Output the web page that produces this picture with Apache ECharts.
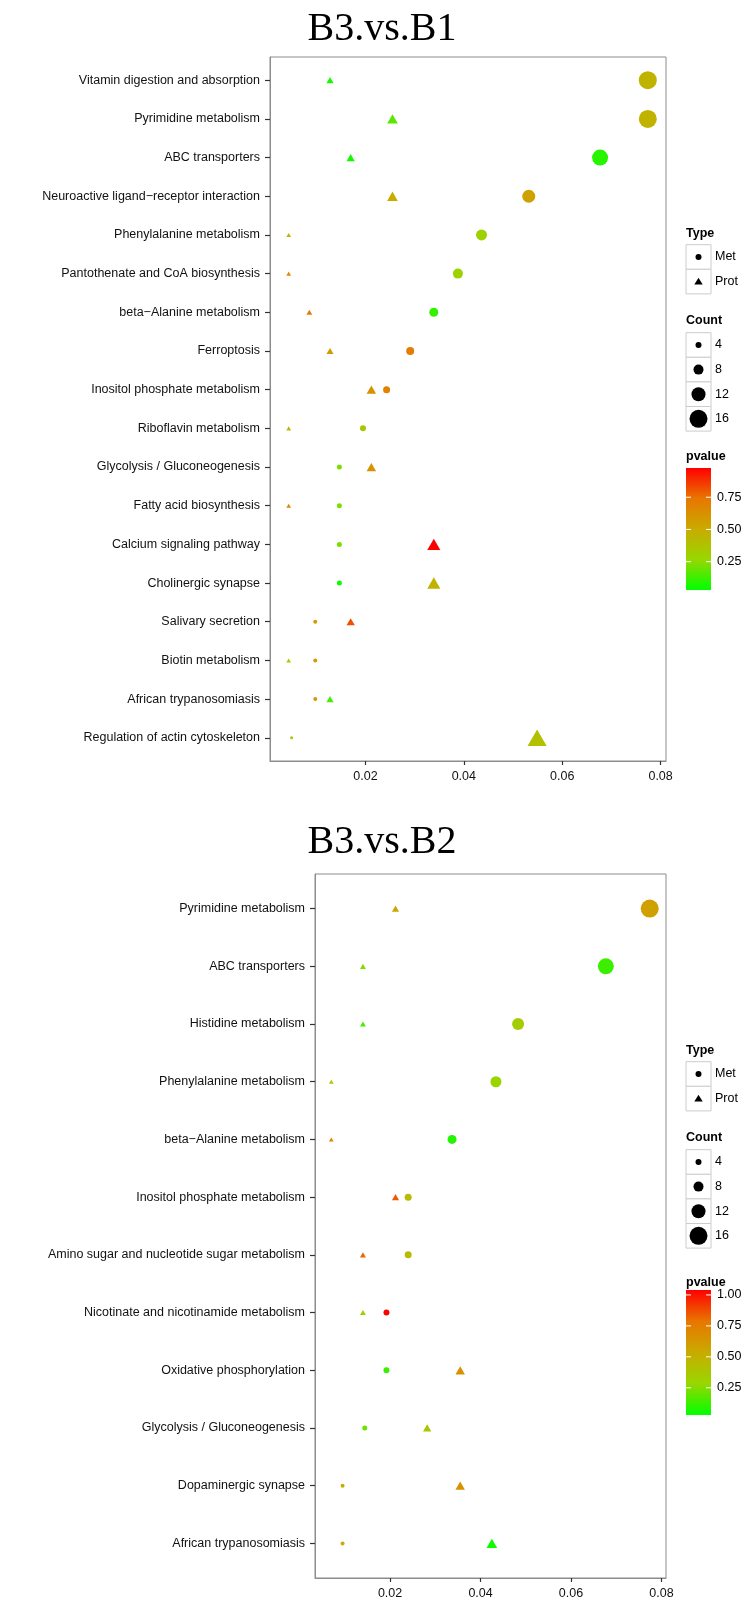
<!DOCTYPE html>
<html>
<head>
<meta charset="utf-8">
<script src="https://cdn.jsdelivr.net/npm/echarts@6/dist/echarts.min.js"></script>
<style>
  html, body { margin: 0; padding: 0; background: #fff; }
  #chart { width: 746px; height: 1600px; }
</style>
</head>
<body>
<div id="chart"></div>
<script>
// panel 1: B3.vs.B1
const pathways1 = [
  'Vitamin digestion and absorption', 'Pyrimidine metabolism', 'ABC transporters',
  'Neuroactive ligand\u2212receptor interaction', 'Phenylalanine metabolism',
  'Pantothenate and CoA biosynthesis', 'beta\u2212Alanine metabolism', 'Ferroptosis',
  'Inositol phosphate metabolism', 'Riboflavin metabolism', 'Glycolysis / Gluconeogenesis',
  'Fatty acid biosynthesis', 'Calcium signaling pathway', 'Cholinergic synapse',
  'Salivary secretion', 'Biotin metabolism', 'African trypanosomiasis',
  'Regulation of actin cytoskeleton'
]
const metRatio1 = [0.0774, 0.0774, 0.0677, 0.0532, 0.0436, 0.0388, 0.0339, 0.0291, 0.0243, 0.0195, 0.0147, 0.0147, 0.0147, 0.0147, 0.0098, 0.0098, 0.0098, 0.0050]
const metCount1 = [16, 16, 14, 11, 9, 8, 7, 6, 5, 4, 3, 3, 3, 3, 2, 2, 2, 1]
const metP1 = [0.46, 0.46, 0.09, 0.55, 0.30, 0.29, 0.11, 0.71, 0.69, 0.36, 0.22, 0.22, 0.22, 0.05, 0.57, 0.57, 0.57, 0.36]
const protRatio1 = [0.0128, 0.0255, 0.0170, 0.0255, 0.0044, 0.0044, 0.0086, 0.0128, 0.0212, 0.0044, 0.0212, 0.0044, 0.0339, 0.0339, 0.0170, 0.0044, 0.0128, 0.0549]
const protCount1 = [3, 6, 4, 6, 1, 1, 2, 3, 5, 1, 5, 1, 8, 8, 4, 1, 3, 13]
const protP1 = [0.06, 0.17, 0.06, 0.50, 0.46, 0.65, 0.71, 0.57, 0.62, 0.46, 0.62, 0.66, 0.977, 0.46, 0.82, 0.31, 0.14, 0.39]

// panel 2: B3.vs.B2
const pathways2 = [
  'Pyrimidine metabolism', 'ABC transporters', 'Histidine metabolism',
  'Phenylalanine metabolism', 'beta\u2212Alanine metabolism', 'Inositol phosphate metabolism',
  'Amino sugar and nucleotide sugar metabolism', 'Nicotinate and nicotinamide metabolism',
  'Oxidative phosphorylation', 'Glycolysis / Gluconeogenesis', 'Dopaminergic synapse',
  'African trypanosomiasis'
]
const metRatio2 = [0.0774, 0.0677, 0.0483, 0.0434, 0.0337, 0.0240, 0.0240, 0.0192, 0.0192, 0.0144, 0.0095, 0.0095]
const metCount2 = [16, 14, 10, 9, 7, 5, 5, 4, 4, 3, 2, 2]
const metP2 = [0.59, 0.13, 0.34, 0.29, 0.09, 0.44, 0.44, 1.04, 0.13, 0.21, 0.52, 0.52]
const protRatio2 = [0.0212, 0.0140, 0.0140, 0.0070, 0.0070, 0.0212, 0.0140, 0.0140, 0.0355, 0.0282, 0.0355, 0.0425]
const protCount2 = [3, 2, 2, 1, 1, 3, 2, 2, 5, 4, 5, 6]
const protP2 = [0.56, 0.25, 0.15, 0.36, 0.72, 0.85, 0.82, 0.32, 0.66, 0.39, 0.66, 0.05]

const titles = ['B3.vs.B1', 'B3.vs.B2']
const typeNames = ['Met', 'Prot']
const xTicks = [0.02, 0.04, 0.06, 0.08]
const countKeys = [4, 8, 12, 16]
const pTicks1 = [0.25, 0.5, 0.75]
const pTicks2 = [0.25, 0.5, 0.75, 1.0]
const xRange1 = [0.0006, 0.0811]
const xRange2 = [0.0034, 0.0810]
const pRange1 = [0.03, 0.977]
const pRange2 = [0.03, 1.04]

// green -> red, interpolated like ggplot (Lab)
const pColors = ['#00ff00', '#98d700', '#c9ab00', '#e87600', '#ff0000']

const SANS = "'Liberation Sans', Arial, Helvetica, sans-serif"
const SERIF = "'Liberation Serif', 'Times New Roman', serif"

const circleSize = c => c + 2
const triSize = c => { const w = 1.2 * c + 3.5; return [w, w * 0.87] }

function points(ratio, count, p) {
  return ratio.map((x, i) => [x, i, count[i], p[i]])
}

function xAxisOf(gi, range) {
  return {
    gridIndex: gi, type: 'value', min: range[0], max: range[1],
    axisLine: { show: true, onZero: false, lineStyle: { color: '#8c8c8c', width: 1 } },
    axisTick: { show: true, length: 4, customValues: xTicks, lineStyle: { color: '#333', width: 1.2 } },
    axisLabel: { customValues: xTicks, formatter: v => v.toFixed(2), margin: 9, fontSize: 12.5, color: '#111', fontFamily: SANS },
    splitLine: { show: false }
  }
}

function yAxisOf(gi, names) {
  const idx = names.map((_, i) => i)
  return {
    gridIndex: gi, type: 'value', inverse: true, min: -0.6, max: names.length - 0.4,
    axisLine: { show: true, onZero: false, lineStyle: { color: '#8c8c8c', width: 1 } },
    axisTick: { show: true, length: 5, customValues: idx, lineStyle: { color: '#333', width: 1.2 } },
    axisLabel: { customValues: idx, formatter: v => names[Math.round(v)], margin: 10, fontSize: 12.5, color: '#111', fontFamily: SANS },
    splitLine: { show: false }
  }
}

function seriesOf(gi, ratioM, countM, pM, ratioP, countP, pP) {
  return [
    {
      name: 'Met', type: 'scatter', xAxisIndex: gi, yAxisIndex: gi, symbol: 'circle',
      symbolSize: v => circleSize(v[2]), data: points(ratioM, countM, pM),
      itemStyle: { opacity: 1 }, silent: true
    },
    {
      name: 'Prot', type: 'scatter', xAxisIndex: gi, yAxisIndex: gi, symbol: 'triangle',
      symbolSize: v => triSize(v[2]), data: points(ratioP, countP, pP),
      itemStyle: { opacity: 1 }, silent: true
    }
  ]
}

// ggplot-style legend column: Type, Count, pvalue colourbar
function legendOf(y0, pTitleY, barTop, barLen, pTicks, pRange) {
  const x0 = 686, kw = 25, kh = 24.6
  const els = []
  const txt = (x, y, s, bold) => ({
    type: 'text', x, y,
    style: { text: s, fontSize: 12.5, fontWeight: bold ? 'bold' : 'normal', fill: '#000', fontFamily: SANS, verticalAlign: 'middle' }
  })
  const key = (cy) => ({ type: 'rect', shape: { x: x0, y: cy - kh / 2, width: kw, height: kh }, style: { fill: '#fff', stroke: '#cccccc', lineWidth: 1 } })

  els.push(txt(x0, y0, 'Type', true))
  typeNames.forEach((name, i) => {
    const cy = y0 + 23 + i * kh, cx = x0 + kw / 2
    els.push(key(cy))
    if (i === 0) {
      els.push({ type: 'circle', shape: { cx, cy, r: 3 }, style: { fill: '#000' } })
    } else {
      els.push({ type: 'polygon', shape: { points: [[cx, cy - 3.8], [cx + 4.2, cy + 3], [cx - 4.2, cy + 3]] }, style: { fill: '#000' } })
    }
    els.push(txt(x0 + kw + 4, cy, name))
  })

  els.push(txt(x0, y0 + 87, 'Count', true))
  countKeys.forEach((c, i) => {
    const cy = y0 + 111 + i * kh
    els.push(key(cy))
    els.push({ type: 'circle', shape: { cx: x0 + kw / 2, cy, r: circleSize(c) / 2 }, style: { fill: '#000' } })
    els.push(txt(x0 + kw + 4, cy, String(c)))
  })

  els.push(txt(x0, pTitleY, 'pvalue', true))
  els.push({
    type: 'rect', shape: { x: x0, y: barTop, width: kw, height: barLen },
    style: {
      fill: new echarts.graphic.LinearGradient(0, 1, 0, 0,
        pColors.map((c, i) => ({ offset: i / (pColors.length - 1), color: c })))
    }
  })
  pTicks.forEach(v => {
    const y = barTop + barLen - (v - pRange[0]) / (pRange[1] - pRange[0]) * barLen
    els.push({ type: 'line', shape: { x1: x0, y1: y, x2: x0 + 5, y2: y }, style: { stroke: '#fff', lineWidth: 1 } })
    els.push({ type: 'line', shape: { x1: x0 + kw - 5, y1: y, x2: x0 + kw, y2: y }, style: { stroke: '#fff', lineWidth: 1 } })
    els.push(txt(x0 + kw + 6, y, v.toFixed(2)))
  })
  return els
}

const chart = echarts.init(document.getElementById('chart'), null, { renderer: 'canvas' })

const option = {
  backgroundColor: '#fff',
  animation: false,
  grid: [
    { left: 270, top: 57, width: 396, height: 704, show: true, borderColor: '#8c8c8c', borderWidth: 1, backgroundColor: '#fff' },
    { left: 315, top: 874, width: 351, height: 704, show: true, borderColor: '#8c8c8c', borderWidth: 1, backgroundColor: '#fff' }
  ],
  xAxis: [xAxisOf(0, xRange1), xAxisOf(1, xRange2)],
  yAxis: [yAxisOf(0, pathways1), yAxisOf(1, pathways2)],
  visualMap: [
    { type: 'continuous', show: false, seriesIndex: [0, 1], dimension: 3, min: pRange1[0], max: pRange1[1], inRange: { color: pColors } },
    { type: 'continuous', show: false, seriesIndex: [2, 3], dimension: 3, min: pRange2[0], max: pRange2[1], inRange: { color: pColors } }
  ],
  series: [
    ...seriesOf(0, metRatio1, metCount1, metP1, protRatio1, protCount1, protP1),
    ...seriesOf(1, metRatio2, metCount2, metP2, protRatio2, protCount2, protP2)
  ],
  graphic: [
    { type: 'text', x: 382, y: 29, style: { text: titles[0], fontSize: 40, fontFamily: SERIF, fill: '#000', align: 'center', verticalAlign: 'middle' } },
    { type: 'text', x: 382, y: 842, style: { text: titles[1], fontSize: 40, fontFamily: SERIF, fill: '#000', align: 'center', verticalAlign: 'middle' } },
    ...legendOf(234, 457, 468, 122, pTicks1, pRange1),
    ...legendOf(1051, 1283, 1290, 125, pTicks2, pRange2)
  ]
}

chart.setOption(option)
</script>
</body>
</html>
